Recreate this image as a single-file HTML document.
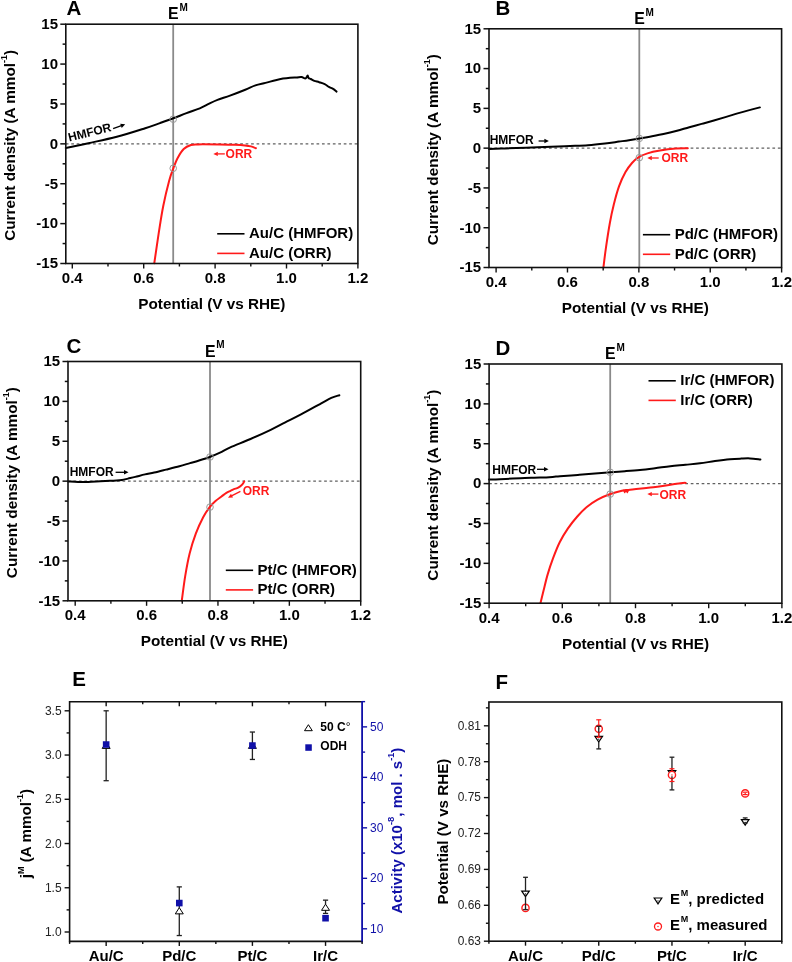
<!DOCTYPE html><html><head><meta charset="utf-8"><style>html,body{margin:0;padding:0;background:#fff;width:792px;height:962px;overflow:hidden}svg{display:block;filter:blur(0.3px)}text{font-family:"Liberation Sans", sans-serif}</style></head><body>
<svg width="792" height="962" viewBox="0 0 792 962">
<rect width="792" height="962" fill="#fff"/>
<line x1="65.8" y1="143.85" x2="357.9" y2="143.85" stroke="#606060" stroke-width="1.15" stroke-dasharray="2.7 2.75"/>
<line x1="173.2" y1="24.2" x2="173.2" y2="263.5" stroke="#8a8a8a" stroke-width="1.8" />
<path d="M65.8,148 C69.57,147.2 79.9,145.07 88.4,143.2 C96.9,141.33 107.33,139.3 116.8,136.8 C126.27,134.3 138,130.48 145.2,128.2 C152.4,125.92 155.32,124.75 160,123.1 C164.68,121.45 168.88,119.97 173.3,118.3 C177.72,116.63 182.08,114.77 186.5,113.1 C190.92,111.43 196.12,109.83 199.8,108.3 C203.48,106.77 205.65,105.3 208.6,103.9 C211.55,102.5 213.93,101.28 217.5,99.9 C221.07,98.52 225.38,97.3 230,95.6 C234.62,93.9 241.02,91.4 245.25,89.7 C249.48,88 252.03,86.53 255.4,85.4 C258.77,84.27 262.13,83.77 265.5,82.9 C268.87,82.03 272.68,80.92 275.6,80.2 C278.52,79.48 280.6,79.02 283,78.6 C285.4,78.18 287.68,77.9 290,77.7 C292.32,77.5 294.98,77.5 296.9,77.4 C298.82,77.3 300.1,76.92 301.5,77.1 C302.9,77.28 304.4,78.55 305.3,78.5 C306.2,78.45 306.5,77.28 306.9,76.8 C307.3,76.32 307.42,75.4 307.7,75.6 C307.98,75.8 308.08,77.43 308.6,78 C309.12,78.57 309.85,78.53 310.8,79 C311.75,79.47 312.9,80.32 314.3,80.85 C315.7,81.38 317.47,81.66 319.2,82.2 C320.93,82.74 323.08,83.32 324.7,84.1 C326.32,84.88 327.5,86.1 328.9,86.9 C330.3,87.7 331.83,88.12 333.1,88.9 C334.37,89.68 335.93,91.15 336.5,91.6" stroke="#000" stroke-width="2" fill="none" stroke-linejoin="round" stroke-linecap="round" />
<path d="M154.3,263.2 C155.07,257.98 157.4,241.48 158.9,231.9 C160.4,222.32 161.6,214.18 163.3,205.7 C165,197.22 167.4,187.32 169.1,181 C170.8,174.68 172.05,171.68 173.5,167.8 C174.95,163.92 176.1,160.83 177.8,157.7 C179.5,154.57 181.52,151.12 183.7,149 C185.88,146.88 188.48,145.77 190.9,145 C193.32,144.23 193.35,144.48 198.2,144.4 C203.05,144.32 213.87,144.43 220,144.5 C226.13,144.57 230.83,144.65 235,144.8 C239.17,144.95 242.33,145.13 245,145.4 C247.67,145.67 249.18,145.93 251,146.4 C252.82,146.87 255.08,147.9 255.9,148.2" stroke="#ff1a1a" stroke-width="2" fill="none" stroke-linejoin="round" stroke-linecap="round" />
<circle cx="173.2" cy="119.2" r="3.3" fill="none" stroke="#999" stroke-width="1"/>
<circle cx="173.2" cy="168.3" r="3.3" fill="none" stroke="#999" stroke-width="1"/>
<rect x="65.8" y="24.2" width="292.1" height="239.3" fill="none" stroke="#111" stroke-width="1.6"/>
<line x1="60.3" y1="263.5" x2="65.8" y2="263.5" stroke="#111" stroke-width="1.5" />
<text x="58" y="268.3" font-size="15" font-weight="bold" text-anchor="end" fill="#000" >-15</text>
<line x1="62.6" y1="243.56" x2="65.8" y2="243.56" stroke="#111" stroke-width="1.5" />
<line x1="60.3" y1="223.62" x2="65.8" y2="223.62" stroke="#111" stroke-width="1.5" />
<text x="58" y="228.42" font-size="15" font-weight="bold" text-anchor="end" fill="#000" >-10</text>
<line x1="62.6" y1="203.68" x2="65.8" y2="203.68" stroke="#111" stroke-width="1.5" />
<line x1="60.3" y1="183.73" x2="65.8" y2="183.73" stroke="#111" stroke-width="1.5" />
<text x="58" y="188.53" font-size="15" font-weight="bold" text-anchor="end" fill="#000" >-5</text>
<line x1="62.6" y1="163.79" x2="65.8" y2="163.79" stroke="#111" stroke-width="1.5" />
<line x1="60.3" y1="143.85" x2="65.8" y2="143.85" stroke="#111" stroke-width="1.5" />
<text x="58" y="148.65" font-size="15" font-weight="bold" text-anchor="end" fill="#000" >0</text>
<line x1="62.6" y1="123.91" x2="65.8" y2="123.91" stroke="#111" stroke-width="1.5" />
<line x1="60.3" y1="103.97" x2="65.8" y2="103.97" stroke="#111" stroke-width="1.5" />
<text x="58" y="108.77" font-size="15" font-weight="bold" text-anchor="end" fill="#000" >5</text>
<line x1="62.6" y1="84.02" x2="65.8" y2="84.02" stroke="#111" stroke-width="1.5" />
<line x1="60.3" y1="64.08" x2="65.8" y2="64.08" stroke="#111" stroke-width="1.5" />
<text x="58" y="68.88" font-size="15" font-weight="bold" text-anchor="end" fill="#000" >10</text>
<line x1="62.6" y1="44.14" x2="65.8" y2="44.14" stroke="#111" stroke-width="1.5" />
<line x1="60.3" y1="24.2" x2="65.8" y2="24.2" stroke="#111" stroke-width="1.5" />
<text x="58" y="29" font-size="15" font-weight="bold" text-anchor="end" fill="#000" >15</text>
<line x1="72.3" y1="263.5" x2="72.3" y2="268.5" stroke="#111" stroke-width="1.4" />
<text x="72.3" y="283" font-size="15" font-weight="bold" text-anchor="middle" fill="#000" >0.4</text>
<line x1="108" y1="263.5" x2="108" y2="266.5" stroke="#111" stroke-width="1.4" />
<line x1="143.7" y1="263.5" x2="143.7" y2="268.5" stroke="#111" stroke-width="1.4" />
<text x="143.7" y="283" font-size="15" font-weight="bold" text-anchor="middle" fill="#000" >0.6</text>
<line x1="179.4" y1="263.5" x2="179.4" y2="266.5" stroke="#111" stroke-width="1.4" />
<line x1="215.1" y1="263.5" x2="215.1" y2="268.5" stroke="#111" stroke-width="1.4" />
<text x="215.1" y="283" font-size="15" font-weight="bold" text-anchor="middle" fill="#000" >0.8</text>
<line x1="250.8" y1="263.5" x2="250.8" y2="266.5" stroke="#111" stroke-width="1.4" />
<line x1="286.5" y1="263.5" x2="286.5" y2="268.5" stroke="#111" stroke-width="1.4" />
<text x="286.5" y="283" font-size="15" font-weight="bold" text-anchor="middle" fill="#000" >1.0</text>
<line x1="322.2" y1="263.5" x2="322.2" y2="266.5" stroke="#111" stroke-width="1.4" />
<line x1="357.9" y1="263.5" x2="357.9" y2="268.5" stroke="#111" stroke-width="1.4" />
<text x="357.9" y="283" font-size="15" font-weight="bold" text-anchor="middle" fill="#000" >1.2</text>
<text x="15" y="145.35" font-size="15.3" font-weight="bold" text-anchor="middle" transform="rotate(-90 15 145.35)">Current density (A mmol<tspan font-size="9" dy="-8">-1</tspan><tspan dy="8">)</tspan></text>
<text x="211.85" y="308.8" font-size="15.3" font-weight="bold" text-anchor="middle" fill="#000" >Potential (V vs RHE)</text>
<text x="66.4" y="15.3" font-size="20.5" font-weight="bold" text-anchor="start" fill="#000" >A</text>
<text x="168.1" y="19.4" font-size="17.3" font-weight="bold" textLength="10.6" lengthAdjust="spacingAndGlyphs">E</text>
<text x="179.4" y="11.1" font-size="10" font-weight="bold">M</text>
<line x1="217.2" y1="233.8" x2="244.5" y2="233.8" stroke="#000" stroke-width="1.6" />
<line x1="217.2" y1="253.4" x2="244.5" y2="253.4" stroke="#ff1a1a" stroke-width="1.6" />
<text x="249" y="238.3" font-size="15" font-weight="bold" text-anchor="start" fill="#000" >Au/C (HMFOR)</text>
<text x="249" y="257.9" font-size="15" font-weight="bold" text-anchor="start" fill="#000" >Au/C (ORR)</text>
<text x="69.3" y="141.5" font-size="12" font-weight="bold" transform="rotate(-14 69.3 141.5)">HMFOR</text>
<line x1="113.1" y1="128.7" x2="121.44" y2="125.67" stroke="#000" stroke-width="1.3" stroke-linecap="butt"/>
<path d="M125.2,124.3 L121.72,127.91 L120.22,123.77 Z" fill="#000"/>
<line x1="224.8" y1="153.9" x2="217.3" y2="153.9" stroke="#ff1a1a" stroke-width="1.3" stroke-linecap="butt"/>
<path d="M213.3,153.9 L217.8,151.7 L217.8,156.1 Z" fill="#ff1a1a"/>
<text x="225.6" y="158.1" font-size="12" font-weight="bold" text-anchor="start" fill="#ff1a1a" >ORR</text>
<line x1="489" y1="148.15" x2="781.6" y2="148.15" stroke="#606060" stroke-width="1.15" stroke-dasharray="2.7 2.75"/>
<line x1="639.3" y1="28.8" x2="639.3" y2="267.5" stroke="#8a8a8a" stroke-width="1.8" />
<path d="M489.1,149.1 C491.75,148.98 498.87,148.63 505,148.4 C511.13,148.17 518.22,147.98 525.9,147.7 C533.58,147.42 543.75,146.98 551.1,146.7 C558.45,146.42 563.85,146.25 570,146 C576.15,145.75 582.17,145.62 588,145.2 C593.83,144.78 599.85,144.1 605,143.5 C610.15,142.9 614.9,142.15 618.9,141.6 C622.9,141.05 625.58,140.72 629,140.2 C632.42,139.68 635.57,139.15 639.4,138.5 C643.23,137.85 647.8,137.08 652,136.3 C656.2,135.52 660.43,134.73 664.6,133.8 C668.77,132.87 672.88,131.8 677,130.7 C681.12,129.6 685.2,128.33 689.3,127.2 C693.4,126.07 697.5,125.02 701.6,123.9 C705.7,122.78 709.8,121.67 713.9,120.5 C718,119.33 722.1,118.13 726.2,116.9 C730.3,115.67 734.63,114.23 738.5,113.1 C742.37,111.97 745.83,111.05 749.4,110.1 C752.97,109.15 758.15,107.85 759.9,107.4" stroke="#000" stroke-width="2" fill="none" stroke-linejoin="round" stroke-linecap="round" />
<path d="M603.4,267.5 C603.83,264.15 604.92,254.87 606,247.4 C607.08,239.93 608.6,229.85 609.9,222.7 C611.2,215.55 612.28,210.55 613.8,204.5 C615.32,198.45 617.05,191.8 619,186.4 C620.95,181 623.33,176 625.5,172.1 C627.67,168.2 629.85,165.47 632,163 C634.15,160.53 635.82,158.9 638.4,157.3 C640.98,155.7 643.9,154.52 647.5,153.4 C651.1,152.28 655.28,151.4 660,150.6 C664.72,149.8 671.17,148.98 675.8,148.6 C680.43,148.22 685.8,148.35 687.8,148.3" stroke="#ff1a1a" stroke-width="2" fill="none" stroke-linejoin="round" stroke-linecap="round" />
<circle cx="639.3" cy="138.4" r="3.3" fill="none" stroke="#999" stroke-width="1"/>
<circle cx="639.3" cy="157.7" r="3.3" fill="none" stroke="#999" stroke-width="1"/>
<rect x="489" y="28.8" width="292.6" height="238.7" fill="none" stroke="#111" stroke-width="1.6"/>
<line x1="483.5" y1="267.5" x2="489" y2="267.5" stroke="#111" stroke-width="1.5" />
<text x="481.2" y="272.3" font-size="15" font-weight="bold" text-anchor="end" fill="#000" >-15</text>
<line x1="485.8" y1="247.61" x2="489" y2="247.61" stroke="#111" stroke-width="1.5" />
<line x1="483.5" y1="227.72" x2="489" y2="227.72" stroke="#111" stroke-width="1.5" />
<text x="481.2" y="232.52" font-size="15" font-weight="bold" text-anchor="end" fill="#000" >-10</text>
<line x1="485.8" y1="207.82" x2="489" y2="207.82" stroke="#111" stroke-width="1.5" />
<line x1="483.5" y1="187.93" x2="489" y2="187.93" stroke="#111" stroke-width="1.5" />
<text x="481.2" y="192.73" font-size="15" font-weight="bold" text-anchor="end" fill="#000" >-5</text>
<line x1="485.8" y1="168.04" x2="489" y2="168.04" stroke="#111" stroke-width="1.5" />
<line x1="483.5" y1="148.15" x2="489" y2="148.15" stroke="#111" stroke-width="1.5" />
<text x="481.2" y="152.95" font-size="15" font-weight="bold" text-anchor="end" fill="#000" >0</text>
<line x1="485.8" y1="128.26" x2="489" y2="128.26" stroke="#111" stroke-width="1.5" />
<line x1="483.5" y1="108.37" x2="489" y2="108.37" stroke="#111" stroke-width="1.5" />
<text x="481.2" y="113.17" font-size="15" font-weight="bold" text-anchor="end" fill="#000" >5</text>
<line x1="485.8" y1="88.48" x2="489" y2="88.48" stroke="#111" stroke-width="1.5" />
<line x1="483.5" y1="68.58" x2="489" y2="68.58" stroke="#111" stroke-width="1.5" />
<text x="481.2" y="73.38" font-size="15" font-weight="bold" text-anchor="end" fill="#000" >10</text>
<line x1="485.8" y1="48.69" x2="489" y2="48.69" stroke="#111" stroke-width="1.5" />
<line x1="483.5" y1="28.8" x2="489" y2="28.8" stroke="#111" stroke-width="1.5" />
<text x="481.2" y="33.6" font-size="15" font-weight="bold" text-anchor="end" fill="#000" >15</text>
<line x1="496.1" y1="267.5" x2="496.1" y2="272.5" stroke="#111" stroke-width="1.4" />
<text x="496.1" y="287" font-size="15" font-weight="bold" text-anchor="middle" fill="#000" >0.4</text>
<line x1="531.79" y1="267.5" x2="531.79" y2="270.5" stroke="#111" stroke-width="1.4" />
<line x1="567.48" y1="267.5" x2="567.48" y2="272.5" stroke="#111" stroke-width="1.4" />
<text x="567.48" y="287" font-size="15" font-weight="bold" text-anchor="middle" fill="#000" >0.6</text>
<line x1="603.17" y1="267.5" x2="603.17" y2="270.5" stroke="#111" stroke-width="1.4" />
<line x1="638.86" y1="267.5" x2="638.86" y2="272.5" stroke="#111" stroke-width="1.4" />
<text x="638.86" y="287" font-size="15" font-weight="bold" text-anchor="middle" fill="#000" >0.8</text>
<line x1="674.55" y1="267.5" x2="674.55" y2="270.5" stroke="#111" stroke-width="1.4" />
<line x1="710.24" y1="267.5" x2="710.24" y2="272.5" stroke="#111" stroke-width="1.4" />
<text x="710.24" y="287" font-size="15" font-weight="bold" text-anchor="middle" fill="#000" >1.0</text>
<line x1="745.93" y1="267.5" x2="745.93" y2="270.5" stroke="#111" stroke-width="1.4" />
<line x1="781.62" y1="267.5" x2="781.62" y2="272.5" stroke="#111" stroke-width="1.4" />
<text x="781.62" y="287" font-size="15" font-weight="bold" text-anchor="middle" fill="#000" >1.2</text>
<text x="438.2" y="149.65" font-size="15.3" font-weight="bold" text-anchor="middle" transform="rotate(-90 438.2 149.65)">Current density (A mmol<tspan font-size="9" dy="-8">-1</tspan><tspan dy="8">)</tspan></text>
<text x="635.3" y="312.8" font-size="15.3" font-weight="bold" text-anchor="middle" fill="#000" >Potential (V vs RHE)</text>
<text x="495.4" y="15.4" font-size="20.5" font-weight="bold" text-anchor="start" fill="#000" >B</text>
<text x="634.2" y="24" font-size="17.3" font-weight="bold" textLength="10.6" lengthAdjust="spacingAndGlyphs">E</text>
<text x="645.5" y="15.7" font-size="10" font-weight="bold">M</text>
<line x1="642.9" y1="234.7" x2="670.2" y2="234.7" stroke="#000" stroke-width="1.6" />
<line x1="642.9" y1="254.3" x2="670.2" y2="254.3" stroke="#ff1a1a" stroke-width="1.6" />
<text x="674.7" y="239.2" font-size="15" font-weight="bold" text-anchor="start" fill="#000" >Pd/C (HMFOR)</text>
<text x="674.7" y="258.8" font-size="15" font-weight="bold" text-anchor="start" fill="#000" >Pd/C (ORR)</text>
<text x="489.7" y="144" font-size="12" font-weight="bold" text-anchor="start" fill="#000" >HMFOR</text>
<line x1="538.6" y1="141" x2="544.9" y2="141" stroke="#000" stroke-width="1.3" stroke-linecap="butt"/>
<path d="M548.9,141 L544.4,143.2 L544.4,138.8 Z" fill="#000"/>
<line x1="658.7" y1="158" x2="651.3" y2="158" stroke="#ff1a1a" stroke-width="1.3" stroke-linecap="butt"/>
<path d="M647.3,158 L651.8,155.8 L651.8,160.2 Z" fill="#ff1a1a"/>
<text x="661.4" y="162" font-size="12" font-weight="bold" text-anchor="start" fill="#ff1a1a" >ORR</text>
<line x1="68" y1="481.15" x2="360.7" y2="481.15" stroke="#606060" stroke-width="1.15" stroke-dasharray="2.7 2.75"/>
<line x1="210" y1="361.5" x2="210" y2="600.8" stroke="#8a8a8a" stroke-width="1.8" />
<path d="M68.1,481.4 C69.75,481.48 74.63,481.8 78,481.9 C81.37,482 84.57,482.1 88.3,482 C92.03,481.9 96.78,481.5 100.4,481.3 C104.02,481.1 107.3,480.92 110,480.8 C112.7,480.68 114.6,480.73 116.6,480.6 C118.6,480.47 120.1,480.33 122,480 C123.9,479.67 125.79,479.12 128,478.6 C130.21,478.08 132.42,477.6 135.25,476.9 C138.08,476.2 141.84,475.13 145,474.4 C148.16,473.67 150.7,473.3 154.2,472.5 C157.7,471.7 161.8,470.65 166,469.6 C170.2,468.55 175.4,467.28 179.4,466.2 C183.4,465.12 186.83,464.02 190,463.1 C193.17,462.18 195.12,461.72 198.4,460.7 C201.68,459.68 206.1,458.35 209.7,457 C213.3,455.65 216.57,454.2 220,452.6 C223.43,451 225.22,449.67 230.3,447.4 C235.38,445.13 243.77,441.93 250.5,439 C257.23,436.07 264.98,432.53 270.7,429.8 C276.42,427.07 279.75,425.17 284.8,422.6 C289.85,420.03 294.93,417.62 301,414.4 C307.07,411.18 316.15,406.05 321.2,403.3 C326.25,400.55 328.27,399.25 331.3,397.9 C334.33,396.55 338.05,395.65 339.4,395.2" stroke="#000" stroke-width="2" fill="none" stroke-linejoin="round" stroke-linecap="round" />
<path d="M181.8,600.6 C182.37,596.52 183.88,583.98 185.2,576.1 C186.52,568.22 187.93,560.38 189.7,553.3 C191.47,546.22 193.53,539.65 195.8,533.6 C198.07,527.55 200.98,521.42 203.3,517 C205.62,512.58 207.67,509.75 209.7,507.1 C211.73,504.45 213.53,502.87 215.5,501.1 C217.47,499.33 219.68,497.88 221.5,496.5 C223.32,495.12 224.88,493.75 226.4,492.8 C227.92,491.85 229.35,491.4 230.6,490.8 C231.85,490.2 232.63,489.73 233.9,489.2 C235.17,488.67 236.93,488.25 238.2,487.6 C239.47,486.95 240.63,486.07 241.5,485.3 C242.37,484.53 242.95,483.65 243.4,483 C243.85,482.35 244.07,481.67 244.2,481.4" stroke="#ff1a1a" stroke-width="2" fill="none" stroke-linejoin="round" stroke-linecap="round" />
<circle cx="210" cy="457" r="3.3" fill="none" stroke="#999" stroke-width="1"/>
<circle cx="210" cy="507.1" r="3.3" fill="none" stroke="#999" stroke-width="1"/>
<rect x="68" y="361.5" width="292.7" height="239.3" fill="none" stroke="#111" stroke-width="1.6"/>
<line x1="62.5" y1="600.8" x2="68" y2="600.8" stroke="#111" stroke-width="1.5" />
<text x="60.2" y="605.6" font-size="15" font-weight="bold" text-anchor="end" fill="#000" >-15</text>
<line x1="64.8" y1="580.86" x2="68" y2="580.86" stroke="#111" stroke-width="1.5" />
<line x1="62.5" y1="560.92" x2="68" y2="560.92" stroke="#111" stroke-width="1.5" />
<text x="60.2" y="565.72" font-size="15" font-weight="bold" text-anchor="end" fill="#000" >-10</text>
<line x1="64.8" y1="540.97" x2="68" y2="540.97" stroke="#111" stroke-width="1.5" />
<line x1="62.5" y1="521.03" x2="68" y2="521.03" stroke="#111" stroke-width="1.5" />
<text x="60.2" y="525.83" font-size="15" font-weight="bold" text-anchor="end" fill="#000" >-5</text>
<line x1="64.8" y1="501.09" x2="68" y2="501.09" stroke="#111" stroke-width="1.5" />
<line x1="62.5" y1="481.15" x2="68" y2="481.15" stroke="#111" stroke-width="1.5" />
<text x="60.2" y="485.95" font-size="15" font-weight="bold" text-anchor="end" fill="#000" >0</text>
<line x1="64.8" y1="461.21" x2="68" y2="461.21" stroke="#111" stroke-width="1.5" />
<line x1="62.5" y1="441.27" x2="68" y2="441.27" stroke="#111" stroke-width="1.5" />
<text x="60.2" y="446.07" font-size="15" font-weight="bold" text-anchor="end" fill="#000" >5</text>
<line x1="64.8" y1="421.32" x2="68" y2="421.32" stroke="#111" stroke-width="1.5" />
<line x1="62.5" y1="401.38" x2="68" y2="401.38" stroke="#111" stroke-width="1.5" />
<text x="60.2" y="406.18" font-size="15" font-weight="bold" text-anchor="end" fill="#000" >10</text>
<line x1="64.8" y1="381.44" x2="68" y2="381.44" stroke="#111" stroke-width="1.5" />
<line x1="62.5" y1="361.5" x2="68" y2="361.5" stroke="#111" stroke-width="1.5" />
<text x="60.2" y="366.3" font-size="15" font-weight="bold" text-anchor="end" fill="#000" >15</text>
<line x1="75.2" y1="600.8" x2="75.2" y2="605.8" stroke="#111" stroke-width="1.4" />
<text x="75.2" y="620.3" font-size="15" font-weight="bold" text-anchor="middle" fill="#000" >0.4</text>
<line x1="110.89" y1="600.8" x2="110.89" y2="603.8" stroke="#111" stroke-width="1.4" />
<line x1="146.58" y1="600.8" x2="146.58" y2="605.8" stroke="#111" stroke-width="1.4" />
<text x="146.58" y="620.3" font-size="15" font-weight="bold" text-anchor="middle" fill="#000" >0.6</text>
<line x1="182.27" y1="600.8" x2="182.27" y2="603.8" stroke="#111" stroke-width="1.4" />
<line x1="217.96" y1="600.8" x2="217.96" y2="605.8" stroke="#111" stroke-width="1.4" />
<text x="217.96" y="620.3" font-size="15" font-weight="bold" text-anchor="middle" fill="#000" >0.8</text>
<line x1="253.65" y1="600.8" x2="253.65" y2="603.8" stroke="#111" stroke-width="1.4" />
<line x1="289.34" y1="600.8" x2="289.34" y2="605.8" stroke="#111" stroke-width="1.4" />
<text x="289.34" y="620.3" font-size="15" font-weight="bold" text-anchor="middle" fill="#000" >1.0</text>
<line x1="325.03" y1="600.8" x2="325.03" y2="603.8" stroke="#111" stroke-width="1.4" />
<line x1="360.72" y1="600.8" x2="360.72" y2="605.8" stroke="#111" stroke-width="1.4" />
<text x="360.72" y="620.3" font-size="15" font-weight="bold" text-anchor="middle" fill="#000" >1.2</text>
<text x="17.2" y="482.65" font-size="15.3" font-weight="bold" text-anchor="middle" transform="rotate(-90 17.2 482.65)">Current density (A mmol<tspan font-size="9" dy="-8">-1</tspan><tspan dy="8">)</tspan></text>
<text x="214.35" y="646.1" font-size="15.3" font-weight="bold" text-anchor="middle" fill="#000" >Potential (V vs RHE)</text>
<text x="66.4" y="352.5" font-size="20.5" font-weight="bold" text-anchor="start" fill="#000" >C</text>
<text x="204.9" y="356.7" font-size="17.3" font-weight="bold" textLength="10.6" lengthAdjust="spacingAndGlyphs">E</text>
<text x="216.2" y="348.4" font-size="10" font-weight="bold">M</text>
<line x1="225.8" y1="570.3" x2="253.1" y2="570.3" stroke="#000" stroke-width="1.6" />
<line x1="225.8" y1="589.9" x2="253.1" y2="589.9" stroke="#ff1a1a" stroke-width="1.6" />
<text x="257.6" y="574.8" font-size="15" font-weight="bold" text-anchor="start" fill="#000" >Pt/C (HMFOR)</text>
<text x="257.6" y="594.4" font-size="15" font-weight="bold" text-anchor="start" fill="#000" >Pt/C (ORR)</text>
<text x="69.7" y="476.4" font-size="12" font-weight="bold" text-anchor="start" fill="#000" >HMFOR</text>
<line x1="115.6" y1="472.3" x2="124.5" y2="472.3" stroke="#000" stroke-width="1.3" stroke-linecap="butt"/>
<path d="M128.5,472.3 L124,474.5 L124,470.1 Z" fill="#000"/>
<line x1="240.4" y1="491.3" x2="231.55" y2="495.87" stroke="#ff1a1a" stroke-width="1.3" stroke-linecap="butt"/>
<path d="M228,497.7 L230.99,493.68 L233.01,497.59 Z" fill="#ff1a1a"/>
<text x="242.7" y="494.5" font-size="12" font-weight="bold" text-anchor="start" fill="#ff1a1a" >ORR</text>
<line x1="489.1" y1="483.6" x2="781.9" y2="483.6" stroke="#606060" stroke-width="1.15" stroke-dasharray="2.7 2.75"/>
<line x1="610.2" y1="364" x2="610.2" y2="603.2" stroke="#8a8a8a" stroke-width="1.8" />
<path d="M489.1,479.5 C490.92,479.45 494.78,479.42 500,479.2 C505.22,478.98 513.73,478.47 520.4,478.2 C527.07,477.93 534.63,477.82 540,477.6 C545.37,477.38 549.27,477.13 552.6,476.9 C555.93,476.67 555.78,476.53 560,476.2 C564.22,475.87 572.07,475.33 577.9,474.9 C583.73,474.47 589.6,474.03 595,473.6 C600.4,473.17 605.3,472.7 610.3,472.3 C615.3,471.9 620.05,471.6 625,471.2 C629.95,470.8 635,470.4 640,469.9 C645,469.4 649.95,468.8 655,468.2 C660.05,467.6 665.22,466.87 670.3,466.3 C675.38,465.73 680.55,465.3 685.5,464.8 C690.45,464.3 695.08,463.92 700,463.3 C704.92,462.68 710,461.77 715,461.1 C720,460.43 725.63,459.72 730,459.3 C734.37,458.88 737.87,458.75 741.2,458.6 C744.53,458.45 746.8,458.27 750,458.4 C753.2,458.53 758.67,459.23 760.4,459.4" stroke="#000" stroke-width="2" fill="none" stroke-linejoin="round" stroke-linecap="round" />
<path d="M540.5,603 C541,600.97 542.32,595.53 543.5,590.8 C544.68,586.07 546.02,580 547.6,574.6 C549.18,569.2 550.98,563.8 553,558.4 C555.02,553 557.23,547.17 559.7,542.2 C562.17,537.23 564.87,532.88 567.8,528.6 C570.73,524.32 574.13,520.1 577.3,516.5 C580.47,512.9 583.42,509.82 586.8,507 C590.18,504.18 593.78,501.73 597.6,499.6 C601.42,497.47 605.65,495.67 609.7,494.2 C613.75,492.73 618.52,491.55 621.9,490.8 C625.28,490.05 625.27,490.25 630,489.7 C634.73,489.15 641.87,488.57 650.3,487.5 C658.73,486.43 674.7,484.07 680.6,483.3 C686.5,482.53 684.85,482.97 685.7,482.9" stroke="#ff1a1a" stroke-width="2" fill="none" stroke-linejoin="round" stroke-linecap="round" />
<circle cx="610.2" cy="472.3" r="3.3" fill="none" stroke="#999" stroke-width="1"/>
<circle cx="610.2" cy="494.1" r="3.3" fill="none" stroke="#999" stroke-width="1"/>
<rect x="489.1" y="364" width="292.8" height="239.2" fill="none" stroke="#111" stroke-width="1.6"/>
<line x1="483.6" y1="603.2" x2="489.1" y2="603.2" stroke="#111" stroke-width="1.5" />
<text x="481.3" y="608" font-size="15" font-weight="bold" text-anchor="end" fill="#000" >-15</text>
<line x1="485.9" y1="583.27" x2="489.1" y2="583.27" stroke="#111" stroke-width="1.5" />
<line x1="483.6" y1="563.33" x2="489.1" y2="563.33" stroke="#111" stroke-width="1.5" />
<text x="481.3" y="568.13" font-size="15" font-weight="bold" text-anchor="end" fill="#000" >-10</text>
<line x1="485.9" y1="543.4" x2="489.1" y2="543.4" stroke="#111" stroke-width="1.5" />
<line x1="483.6" y1="523.47" x2="489.1" y2="523.47" stroke="#111" stroke-width="1.5" />
<text x="481.3" y="528.27" font-size="15" font-weight="bold" text-anchor="end" fill="#000" >-5</text>
<line x1="485.9" y1="503.53" x2="489.1" y2="503.53" stroke="#111" stroke-width="1.5" />
<line x1="483.6" y1="483.6" x2="489.1" y2="483.6" stroke="#111" stroke-width="1.5" />
<text x="481.3" y="488.4" font-size="15" font-weight="bold" text-anchor="end" fill="#000" >0</text>
<line x1="485.9" y1="463.67" x2="489.1" y2="463.67" stroke="#111" stroke-width="1.5" />
<line x1="483.6" y1="443.73" x2="489.1" y2="443.73" stroke="#111" stroke-width="1.5" />
<text x="481.3" y="448.53" font-size="15" font-weight="bold" text-anchor="end" fill="#000" >5</text>
<line x1="485.9" y1="423.8" x2="489.1" y2="423.8" stroke="#111" stroke-width="1.5" />
<line x1="483.6" y1="403.87" x2="489.1" y2="403.87" stroke="#111" stroke-width="1.5" />
<text x="481.3" y="408.67" font-size="15" font-weight="bold" text-anchor="end" fill="#000" >10</text>
<line x1="485.9" y1="383.93" x2="489.1" y2="383.93" stroke="#111" stroke-width="1.5" />
<line x1="483.6" y1="364" x2="489.1" y2="364" stroke="#111" stroke-width="1.5" />
<text x="481.3" y="368.8" font-size="15" font-weight="bold" text-anchor="end" fill="#000" >15</text>
<line x1="489.1" y1="603.2" x2="489.1" y2="608.2" stroke="#111" stroke-width="1.4" />
<text x="489.1" y="622.7" font-size="15" font-weight="bold" text-anchor="middle" fill="#000" >0.4</text>
<line x1="525.7" y1="603.2" x2="525.7" y2="606.2" stroke="#111" stroke-width="1.4" />
<line x1="562.3" y1="603.2" x2="562.3" y2="608.2" stroke="#111" stroke-width="1.4" />
<text x="562.3" y="622.7" font-size="15" font-weight="bold" text-anchor="middle" fill="#000" >0.6</text>
<line x1="598.9" y1="603.2" x2="598.9" y2="606.2" stroke="#111" stroke-width="1.4" />
<line x1="635.5" y1="603.2" x2="635.5" y2="608.2" stroke="#111" stroke-width="1.4" />
<text x="635.5" y="622.7" font-size="15" font-weight="bold" text-anchor="middle" fill="#000" >0.8</text>
<line x1="672.1" y1="603.2" x2="672.1" y2="606.2" stroke="#111" stroke-width="1.4" />
<line x1="708.7" y1="603.2" x2="708.7" y2="608.2" stroke="#111" stroke-width="1.4" />
<text x="708.7" y="622.7" font-size="15" font-weight="bold" text-anchor="middle" fill="#000" >1.0</text>
<line x1="745.3" y1="603.2" x2="745.3" y2="606.2" stroke="#111" stroke-width="1.4" />
<line x1="781.9" y1="603.2" x2="781.9" y2="608.2" stroke="#111" stroke-width="1.4" />
<text x="781.9" y="622.7" font-size="15" font-weight="bold" text-anchor="middle" fill="#000" >1.2</text>
<text x="438.3" y="485.1" font-size="15.3" font-weight="bold" text-anchor="middle" transform="rotate(-90 438.3 485.1)">Current density (A mmol<tspan font-size="9" dy="-8">-1</tspan><tspan dy="8">)</tspan></text>
<text x="635.5" y="648.5" font-size="15.3" font-weight="bold" text-anchor="middle" fill="#000" >Potential (V vs RHE)</text>
<text x="495.4" y="354.6" font-size="20.5" font-weight="bold" text-anchor="start" fill="#000" >D</text>
<text x="605.1" y="359.2" font-size="17.3" font-weight="bold" textLength="10.6" lengthAdjust="spacingAndGlyphs">E</text>
<text x="616.4" y="350.9" font-size="10" font-weight="bold">M</text>
<line x1="648.5" y1="380.8" x2="675.8" y2="380.8" stroke="#000" stroke-width="1.6" />
<line x1="648.5" y1="400.4" x2="675.8" y2="400.4" stroke="#ff1a1a" stroke-width="1.6" />
<text x="680.3" y="385.3" font-size="15" font-weight="bold" text-anchor="start" fill="#000" >Ir/C (HMFOR)</text>
<text x="680.3" y="404.9" font-size="15" font-weight="bold" text-anchor="start" fill="#000" >Ir/C (ORR)</text>
<text x="492.3" y="473.5" font-size="12" font-weight="bold" text-anchor="start" fill="#000" >HMFOR</text>
<line x1="537" y1="469.3" x2="544.5" y2="469.3" stroke="#000" stroke-width="1.3" stroke-linecap="butt"/>
<path d="M548.5,469.3 L544,471.5 L544,467.1 Z" fill="#000"/>
<line x1="658.4" y1="494.1" x2="651.3" y2="494.1" stroke="#ff1a1a" stroke-width="1.3" stroke-linecap="butt"/>
<path d="M647.3,494.1 L651.8,491.9 L651.8,496.3 Z" fill="#ff1a1a"/>
<path d="M623.6,490.4 L624.8,492.6 L626,489.8 L627.2,492.6 L628.6,490.2" stroke="#ff1a1a" stroke-width="1.3" fill="none" stroke-linejoin="round" stroke-linecap="round" />
<text x="659.5" y="498.6" font-size="12" font-weight="bold" text-anchor="start" fill="#ff1a1a" >ORR</text>
<line x1="106.16" y1="710.8" x2="106.16" y2="742.21" stroke="#222" stroke-width="1.3" />
<line x1="106.16" y1="748.41" x2="106.16" y2="780.7" stroke="#222" stroke-width="1.3" />
<line x1="103.56" y1="710.8" x2="108.76" y2="710.8" stroke="#222" stroke-width="1.3" />
<line x1="103.56" y1="780.7" x2="108.76" y2="780.7" stroke="#222" stroke-width="1.3" />
<path d="M106.16,742.21 L110.16,748.41 L102.16,748.41 Z" fill="none" stroke="#000" stroke-width="1" stroke-linejoin="miter"/>
<rect x="102.86" y="741.25" width="6.6" height="6.6" fill="#1010a8"/>
<line x1="179.29" y1="886.88" x2="179.29" y2="907.66" stroke="#222" stroke-width="1.3" />
<line x1="179.29" y1="913.86" x2="179.29" y2="935.54" stroke="#222" stroke-width="1.3" />
<line x1="176.69" y1="886.88" x2="181.89" y2="886.88" stroke="#222" stroke-width="1.3" />
<line x1="176.69" y1="935.54" x2="181.89" y2="935.54" stroke="#222" stroke-width="1.3" />
<path d="M179.29,907.66 L183.29,913.86 L175.29,913.86 Z" fill="none" stroke="#000" stroke-width="1" stroke-linejoin="miter"/>
<rect x="175.99" y="899.76" width="6.6" height="6.6" fill="#1010a8"/>
<line x1="252.41" y1="732.04" x2="252.41" y2="742.21" stroke="#222" stroke-width="1.3" />
<line x1="252.41" y1="748.41" x2="252.41" y2="759.46" stroke="#222" stroke-width="1.3" />
<line x1="249.81" y1="732.04" x2="255.01" y2="732.04" stroke="#222" stroke-width="1.3" />
<line x1="249.81" y1="759.46" x2="255.01" y2="759.46" stroke="#222" stroke-width="1.3" />
<path d="M252.41,742.21 L256.41,748.41 L248.41,748.41 Z" fill="none" stroke="#000" stroke-width="1" stroke-linejoin="miter"/>
<rect x="249.11" y="742.26" width="6.6" height="6.6" fill="#1010a8"/>
<line x1="325.54" y1="900.15" x2="325.54" y2="904.13" stroke="#222" stroke-width="1.3" />
<line x1="325.54" y1="910.33" x2="325.54" y2="913.42" stroke="#222" stroke-width="1.3" />
<line x1="322.94" y1="900.15" x2="328.14" y2="900.15" stroke="#222" stroke-width="1.3" />
<line x1="322.94" y1="913.42" x2="328.14" y2="913.42" stroke="#222" stroke-width="1.3" />
<path d="M325.54,904.13 L329.54,910.33 L321.54,910.33 Z" fill="none" stroke="#000" stroke-width="1" stroke-linejoin="miter"/>
<rect x="322.24" y="914.9" width="6.6" height="6.6" fill="#1010a8"/>
<line x1="69.6" y1="701.8" x2="362.1" y2="701.8" stroke="#111" stroke-width="1.6" />
<line x1="69.6" y1="941.4" x2="362.9" y2="941.4" stroke="#111" stroke-width="1.6" />
<line x1="69.6" y1="701" x2="69.6" y2="942.2" stroke="#111" stroke-width="1.6" />
<line x1="362.1" y1="701" x2="362.1" y2="942.2" stroke="#1010a8" stroke-width="1.8" />
<line x1="64.6" y1="932" x2="69.6" y2="932" stroke="#111" stroke-width="1.4" />
<text x="61.6" y="936.1" font-size="12" font-weight="normal" text-anchor="end" fill="#222" >1.0</text>
<line x1="66.6" y1="909.88" x2="69.6" y2="909.88" stroke="#111" stroke-width="1.4" />
<line x1="64.6" y1="887.76" x2="69.6" y2="887.76" stroke="#111" stroke-width="1.4" />
<text x="61.6" y="891.86" font-size="12" font-weight="normal" text-anchor="end" fill="#222" >1.5</text>
<line x1="66.6" y1="865.64" x2="69.6" y2="865.64" stroke="#111" stroke-width="1.4" />
<line x1="64.6" y1="843.52" x2="69.6" y2="843.52" stroke="#111" stroke-width="1.4" />
<text x="61.6" y="847.62" font-size="12" font-weight="normal" text-anchor="end" fill="#222" >2.0</text>
<line x1="66.6" y1="821.4" x2="69.6" y2="821.4" stroke="#111" stroke-width="1.4" />
<line x1="64.6" y1="799.28" x2="69.6" y2="799.28" stroke="#111" stroke-width="1.4" />
<text x="61.6" y="803.38" font-size="12" font-weight="normal" text-anchor="end" fill="#222" >2.5</text>
<line x1="66.6" y1="777.16" x2="69.6" y2="777.16" stroke="#111" stroke-width="1.4" />
<line x1="64.6" y1="755.04" x2="69.6" y2="755.04" stroke="#111" stroke-width="1.4" />
<text x="61.6" y="759.14" font-size="12" font-weight="normal" text-anchor="end" fill="#222" >3.0</text>
<line x1="66.6" y1="732.92" x2="69.6" y2="732.92" stroke="#111" stroke-width="1.4" />
<line x1="64.6" y1="710.8" x2="69.6" y2="710.8" stroke="#111" stroke-width="1.4" />
<text x="61.6" y="714.9" font-size="12" font-weight="normal" text-anchor="end" fill="#222" >3.5</text>
<line x1="362.1" y1="928.8" x2="367.1" y2="928.8" stroke="#1010a8" stroke-width="1.4" />
<text x="370.1" y="932.9" font-size="12" font-weight="normal" text-anchor="start" fill="#1010a8" >10</text>
<line x1="362.1" y1="903.56" x2="365.1" y2="903.56" stroke="#1010a8" stroke-width="1.4" />
<line x1="362.1" y1="878.32" x2="367.1" y2="878.32" stroke="#1010a8" stroke-width="1.4" />
<text x="370.1" y="882.42" font-size="12" font-weight="normal" text-anchor="start" fill="#1010a8" >20</text>
<line x1="362.1" y1="853.08" x2="365.1" y2="853.08" stroke="#1010a8" stroke-width="1.4" />
<line x1="362.1" y1="827.84" x2="367.1" y2="827.84" stroke="#1010a8" stroke-width="1.4" />
<text x="370.1" y="831.94" font-size="12" font-weight="normal" text-anchor="start" fill="#1010a8" >30</text>
<line x1="362.1" y1="802.6" x2="365.1" y2="802.6" stroke="#1010a8" stroke-width="1.4" />
<line x1="362.1" y1="777.36" x2="367.1" y2="777.36" stroke="#1010a8" stroke-width="1.4" />
<text x="370.1" y="781.46" font-size="12" font-weight="normal" text-anchor="start" fill="#1010a8" >40</text>
<line x1="362.1" y1="752.12" x2="365.1" y2="752.12" stroke="#1010a8" stroke-width="1.4" />
<line x1="362.1" y1="726.88" x2="367.1" y2="726.88" stroke="#1010a8" stroke-width="1.4" />
<text x="370.1" y="730.98" font-size="12" font-weight="normal" text-anchor="start" fill="#1010a8" >50</text>
<line x1="362.1" y1="701.64" x2="365.1" y2="701.64" stroke="#1010a8" stroke-width="1.4" />
<line x1="69.6" y1="941.4" x2="69.6" y2="943.9" stroke="#111" stroke-width="1.4" />
<line x1="106.16" y1="941.4" x2="106.16" y2="945.9" stroke="#111" stroke-width="1.4" />
<line x1="106.16" y1="701.8" x2="106.16" y2="706.3" stroke="#111" stroke-width="1.4" />
<line x1="142.72" y1="941.4" x2="142.72" y2="943.9" stroke="#111" stroke-width="1.4" />
<line x1="142.72" y1="701.8" x2="142.72" y2="704.3" stroke="#111" stroke-width="1.4" />
<line x1="179.29" y1="941.4" x2="179.29" y2="945.9" stroke="#111" stroke-width="1.4" />
<line x1="179.29" y1="701.8" x2="179.29" y2="706.3" stroke="#111" stroke-width="1.4" />
<line x1="215.85" y1="941.4" x2="215.85" y2="943.9" stroke="#111" stroke-width="1.4" />
<line x1="215.85" y1="701.8" x2="215.85" y2="704.3" stroke="#111" stroke-width="1.4" />
<line x1="252.41" y1="941.4" x2="252.41" y2="945.9" stroke="#111" stroke-width="1.4" />
<line x1="252.41" y1="701.8" x2="252.41" y2="706.3" stroke="#111" stroke-width="1.4" />
<line x1="288.98" y1="941.4" x2="288.98" y2="943.9" stroke="#111" stroke-width="1.4" />
<line x1="288.98" y1="701.8" x2="288.98" y2="704.3" stroke="#111" stroke-width="1.4" />
<line x1="325.54" y1="941.4" x2="325.54" y2="945.9" stroke="#111" stroke-width="1.4" />
<line x1="325.54" y1="701.8" x2="325.54" y2="706.3" stroke="#111" stroke-width="1.4" />
<line x1="362.1" y1="941.4" x2="362.1" y2="943.9" stroke="#111" stroke-width="1.4" />
<text x="106.16" y="961.3" font-size="15" font-weight="bold" text-anchor="middle" fill="#000" >Au/C</text>
<text x="179.29" y="961.3" font-size="15" font-weight="bold" text-anchor="middle" fill="#000" >Pd/C</text>
<text x="252.41" y="961.3" font-size="15" font-weight="bold" text-anchor="middle" fill="#000" >Pt/C</text>
<text x="325.54" y="961.3" font-size="15" font-weight="bold" text-anchor="middle" fill="#000" >Ir/C</text>
<path d="M308.4,724.7 L312.3,730.7 L304.5,730.7 Z" fill="#fff" stroke="#000" stroke-width="1" stroke-linejoin="miter"/>
<text x="320.3" y="731.1" font-size="12" font-weight="bold">50 C<tspan font-weight="normal">°</tspan></text>
<rect x="305.3" y="744.3" width="6.5" height="6.5" fill="#1010a8"/>
<text x="320.3" y="749.9" font-size="12" font-weight="bold" text-anchor="start" fill="#000" >ODH</text>
<text x="72.2" y="685.9" font-size="20.5" font-weight="bold" text-anchor="start" fill="#000" >E</text>
<text x="31.3" y="833.6" font-size="15.2" font-weight="bold" text-anchor="middle" transform="rotate(-90 31.3 833.6)">j<tspan font-size="9" dy="-7.5">M</tspan><tspan dy="7.5"> (A mmol</tspan><tspan font-size="9" dy="-7.8">-1</tspan><tspan dy="7.8">)</tspan></text>
<text x="402.3" y="830.6" font-size="15" font-weight="bold" fill="#1010a8" text-anchor="middle" transform="rotate(-90 402.3 830.6)">Activity (x10<tspan font-size="9.5" dy="-7.8">-8</tspan><tspan dy="7.8">, mol . s</tspan><tspan font-size="9" dy="-7.8">-1</tspan><tspan dy="7.8">)</tspan></text>
<path d="M525.51,896.7 L529.31,891.1 L521.71,891.1 Z" fill="none" stroke="#000" stroke-width="1.2" stroke-linejoin="miter"/>
<circle cx="525.51" cy="893.9" r="0.6" fill="#000"/>
<path d="M598.74,742 L602.54,736.4 L594.94,736.4 Z" fill="none" stroke="#000" stroke-width="1.2" stroke-linejoin="miter"/>
<circle cx="598.74" cy="739.2" r="0.6" fill="#000"/>
<path d="M671.96,776.3 L675.76,770.7 L668.16,770.7 Z" fill="none" stroke="#000" stroke-width="1.2" stroke-linejoin="miter"/>
<circle cx="671.96" cy="773.5" r="0.6" fill="#000"/>
<path d="M745.19,825.2 L748.99,819.6 L741.39,819.6 Z" fill="none" stroke="#000" stroke-width="1.2" stroke-linejoin="miter"/>
<circle cx="745.19" cy="822.4" r="0.6" fill="#000"/>
<circle cx="598.74" cy="728.8" r="3.6" fill="#fff" stroke="#ff1a1a" stroke-width="1.4"/>
<circle cx="598.74" cy="728.8" r="0.7" fill="#ff1a1a"/>
<circle cx="671.96" cy="775" r="3.6" fill="#fff" stroke="#ff1a1a" stroke-width="1.4"/>
<circle cx="671.96" cy="775" r="0.7" fill="#ff1a1a"/>
<circle cx="745.19" cy="793.4" r="3.6" fill="#fff" stroke="#ff1a1a" stroke-width="1.4"/>
<circle cx="745.19" cy="793.4" r="0.7" fill="#ff1a1a"/>
<circle cx="525.51" cy="907.9" r="3.6" fill="#fff" stroke="#ff1a1a" stroke-width="1.4"/>
<circle cx="525.51" cy="907.9" r="0.7" fill="#ff1a1a"/>
<line x1="525.51" y1="877.3" x2="525.51" y2="891.1" stroke="#222" stroke-width="1.3" />
<line x1="525.51" y1="896.7" x2="525.51" y2="909.6" stroke="#222" stroke-width="1.3" />
<line x1="523.11" y1="877.3" x2="527.91" y2="877.3" stroke="#222" stroke-width="1.3" />
<line x1="523.11" y1="909.6" x2="527.91" y2="909.6" stroke="#222" stroke-width="1.3" />
<line x1="598.74" y1="726.3" x2="598.74" y2="736.4" stroke="#222" stroke-width="1.3" />
<line x1="598.74" y1="742" x2="598.74" y2="748.9" stroke="#222" stroke-width="1.3" />
<line x1="596.34" y1="726.3" x2="601.14" y2="726.3" stroke="#222" stroke-width="1.3" />
<line x1="596.34" y1="748.9" x2="601.14" y2="748.9" stroke="#222" stroke-width="1.3" />
<line x1="671.96" y1="757.2" x2="671.96" y2="770.7" stroke="#222" stroke-width="1.3" />
<line x1="671.96" y1="776.3" x2="671.96" y2="789.9" stroke="#222" stroke-width="1.3" />
<line x1="669.56" y1="757.2" x2="674.36" y2="757.2" stroke="#222" stroke-width="1.3" />
<line x1="669.56" y1="789.9" x2="674.36" y2="789.9" stroke="#222" stroke-width="1.3" />
<line x1="745.19" y1="817.9" x2="745.19" y2="819.6" stroke="#222" stroke-width="1.3" />
<line x1="742.79" y1="817.9" x2="747.59" y2="817.9" stroke="#222" stroke-width="1.3" />
<line x1="742.79" y1="823" x2="747.59" y2="823" stroke="#222" stroke-width="1.3" />
<line x1="598.74" y1="719.8" x2="598.74" y2="725.2" stroke="#ff1a1a" stroke-width="1.2" />
<line x1="598.74" y1="732.4" x2="598.74" y2="737.3" stroke="#ff1a1a" stroke-width="1.2" />
<line x1="596.24" y1="719.8" x2="601.24" y2="719.8" stroke="#ff1a1a" stroke-width="1.2" />
<line x1="596.24" y1="737.3" x2="601.24" y2="737.3" stroke="#ff1a1a" stroke-width="1.2" />
<line x1="671.96" y1="768.75" x2="671.96" y2="771.4" stroke="#ff1a1a" stroke-width="1.2" />
<line x1="671.96" y1="778.6" x2="671.96" y2="781.5" stroke="#ff1a1a" stroke-width="1.2" />
<line x1="669.46" y1="768.75" x2="674.46" y2="768.75" stroke="#ff1a1a" stroke-width="1.2" />
<line x1="669.46" y1="781.5" x2="674.46" y2="781.5" stroke="#ff1a1a" stroke-width="1.2" />
<line x1="742.69" y1="792.2" x2="747.69" y2="792.2" stroke="#ff1a1a" stroke-width="1.2" />
<line x1="742.69" y1="794.6" x2="747.69" y2="794.6" stroke="#ff1a1a" stroke-width="1.2" />
<rect x="488.9" y="702" width="292.9" height="239.2" fill="none" stroke="#111" stroke-width="1.6"/>
<line x1="483.9" y1="941.2" x2="488.9" y2="941.2" stroke="#111" stroke-width="1.4" />
<text x="480.9" y="945" font-size="11.9" font-weight="normal" text-anchor="end" fill="#222" >0.63</text>
<line x1="485.9" y1="923.25" x2="488.9" y2="923.25" stroke="#111" stroke-width="1.4" />
<line x1="483.9" y1="905.3" x2="488.9" y2="905.3" stroke="#111" stroke-width="1.4" />
<text x="480.9" y="909.1" font-size="11.9" font-weight="normal" text-anchor="end" fill="#222" >0.66</text>
<line x1="485.9" y1="887.35" x2="488.9" y2="887.35" stroke="#111" stroke-width="1.4" />
<line x1="483.9" y1="869.4" x2="488.9" y2="869.4" stroke="#111" stroke-width="1.4" />
<text x="480.9" y="873.2" font-size="11.9" font-weight="normal" text-anchor="end" fill="#222" >0.69</text>
<line x1="485.9" y1="851.45" x2="488.9" y2="851.45" stroke="#111" stroke-width="1.4" />
<line x1="483.9" y1="833.5" x2="488.9" y2="833.5" stroke="#111" stroke-width="1.4" />
<text x="480.9" y="837.3" font-size="11.9" font-weight="normal" text-anchor="end" fill="#222" >0.72</text>
<line x1="485.9" y1="815.55" x2="488.9" y2="815.55" stroke="#111" stroke-width="1.4" />
<line x1="483.9" y1="797.6" x2="488.9" y2="797.6" stroke="#111" stroke-width="1.4" />
<text x="480.9" y="801.4" font-size="11.9" font-weight="normal" text-anchor="end" fill="#222" >0.75</text>
<line x1="485.9" y1="779.65" x2="488.9" y2="779.65" stroke="#111" stroke-width="1.4" />
<line x1="483.9" y1="761.7" x2="488.9" y2="761.7" stroke="#111" stroke-width="1.4" />
<text x="480.9" y="765.5" font-size="11.9" font-weight="normal" text-anchor="end" fill="#222" >0.78</text>
<line x1="485.9" y1="743.75" x2="488.9" y2="743.75" stroke="#111" stroke-width="1.4" />
<line x1="483.9" y1="725.8" x2="488.9" y2="725.8" stroke="#111" stroke-width="1.4" />
<text x="480.9" y="729.6" font-size="11.9" font-weight="normal" text-anchor="end" fill="#222" >0.81</text>
<line x1="485.9" y1="707.85" x2="488.9" y2="707.85" stroke="#111" stroke-width="1.4" />
<line x1="488.9" y1="941.2" x2="488.9" y2="943.7" stroke="#111" stroke-width="1.4" />
<line x1="525.51" y1="941.2" x2="525.51" y2="945.7" stroke="#111" stroke-width="1.4" />
<line x1="562.12" y1="941.2" x2="562.12" y2="943.7" stroke="#111" stroke-width="1.4" />
<line x1="598.74" y1="941.2" x2="598.74" y2="945.7" stroke="#111" stroke-width="1.4" />
<line x1="635.35" y1="941.2" x2="635.35" y2="943.7" stroke="#111" stroke-width="1.4" />
<line x1="671.96" y1="941.2" x2="671.96" y2="945.7" stroke="#111" stroke-width="1.4" />
<line x1="708.57" y1="941.2" x2="708.57" y2="943.7" stroke="#111" stroke-width="1.4" />
<line x1="745.19" y1="941.2" x2="745.19" y2="945.7" stroke="#111" stroke-width="1.4" />
<line x1="781.8" y1="941.2" x2="781.8" y2="943.7" stroke="#111" stroke-width="1.4" />
<text x="525.51" y="961.3" font-size="15" font-weight="bold" text-anchor="middle" fill="#000" >Au/C</text>
<text x="598.74" y="961.3" font-size="15" font-weight="bold" text-anchor="middle" fill="#000" >Pd/C</text>
<text x="671.96" y="961.3" font-size="15" font-weight="bold" text-anchor="middle" fill="#000" >Pt/C</text>
<text x="745.19" y="961.3" font-size="15" font-weight="bold" text-anchor="middle" fill="#000" >Ir/C</text>
<path d="M658,903.8 L661.8,898 L654.2,898 Z" fill="none" stroke="#000" stroke-width="1.2" stroke-linejoin="miter"/>
<circle cx="658" cy="900.9" r="0.6" fill="#000"/>
<text x="670.1" y="903.9" font-size="15" font-weight="bold">E<tspan font-size="9" dy="-7.6" dx="0.6">M</tspan><tspan dy="7.6">, predicted</tspan></text>
<circle cx="658" cy="926.5" r="3.5" fill="none" stroke="#ff1a1a" stroke-width="1.3"/>
<circle cx="658" cy="926.5" r="0.7" fill="#ff1a1a"/>
<text x="670.1" y="929.6" font-size="15" font-weight="bold">E<tspan font-size="9" dy="-7.6" dx="0.6">M</tspan><tspan dy="7.6">, measured</tspan></text>
<text x="495.4" y="688.8" font-size="20.5" font-weight="bold" text-anchor="start" fill="#000" >F</text>
<text x="447.9" y="831.6" font-size="15.2" font-weight="bold" text-anchor="middle" transform="rotate(-90 447.9 831.6)">Potential (V vs RHE)</text>
</svg></body></html>
